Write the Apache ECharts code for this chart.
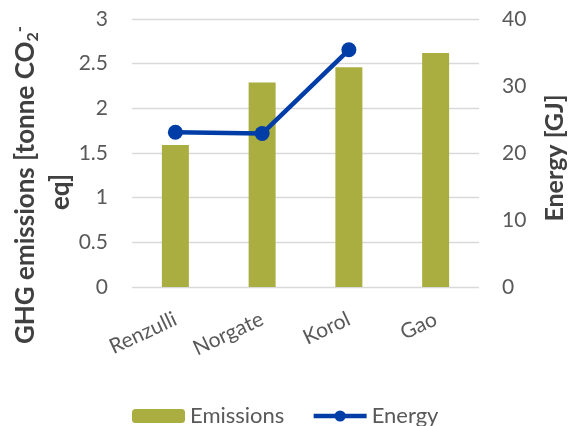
<!DOCTYPE html>
<html>
<head>
<meta charset="utf-8">
<script src="https://cdn.jsdelivr.net/npm/echarts@6/dist/echarts.min.js"></script>
<style>
  html, body { margin: 0; padding: 0; background: #fff; }
  #chart { width: 569px; height: 426px; }
</style>
</head>
<body>
<div id="chart"></div>
<script>
// Studies compared
const categories = ['Renzulli', 'Norgate', 'Korol', 'Gao'];
// GHG emissions, tonne CO2-eq
const emissions = [1.59, 2.29, 2.46, 2.62];
// Energy demand, GJ (no value reported for Gao)
const energy = [23.1, 22.9, 35.4, null];

const FONT = 'Lato';
const TICK_COLOR = '#595959';
const NAME_COLOR = '#404040';
const BAR_COLOR = '#AAAE40';
const LINE_COLOR = '#003DA6';
const TICK_SIZE = 21;

const chart = echarts.init(document.getElementById('chart'), null, { renderer: 'canvas' });

chart.setOption({
  backgroundColor: '#ffffff',
  animation: false,
  textStyle: { fontFamily: FONT },
  grid: { left: 132, right: 90, top: 19, bottom: 139 },
  legend: {
    left: 132,
    top: 405,
    padding: 0,
    itemWidth: 53,
    itemHeight: 14,
    itemGap: 27,
    textStyle: { fontFamily: FONT, fontSize: 22, color: TICK_COLOR },
    lineStyle: { width: 4.5 },
    data: ['Emissions', 'Energy']
  },
  xAxis: {
    type: 'category',
    data: categories,
    axisLine: { show: false },
    axisTick: { show: false },
    axisLabel: {
      rotate: 25,
      margin: 31,
      fontFamily: FONT,
      fontSize: TICK_SIZE,
      color: TICK_COLOR
    }
  },
  yAxis: [
    {
      type: 'value',
      min: 0, max: 3, interval: 0.5,
      axisLine: { show: false },
      axisTick: { show: false },
      axisLabel: { margin: 24, fontFamily: FONT, fontSize: TICK_SIZE, color: TICK_COLOR },
      splitLine: { lineStyle: { color: '#D9D9D9', width: 1.3 } }
    },
    {
      type: 'value',
      min: 0, max: 40, interval: 10,
      axisLine: { show: false },
      axisTick: { show: false },
      axisLabel: { margin: 23, fontFamily: FONT, fontSize: TICK_SIZE, color: TICK_COLOR },
      splitLine: { show: false }
    }
  ],
  series: [
    {
      name: 'Emissions',
      type: 'bar',
      yAxisIndex: 0,
      data: emissions,
      barWidth: 27,
      itemStyle: { color: BAR_COLOR }
    },
    {
      name: 'Energy',
      type: 'line',
      yAxisIndex: 1,
      data: energy,
      symbol: 'circle',
      symbolSize: 15,
      lineStyle: { color: LINE_COLOR, width: 4.5 },
      itemStyle: { color: LINE_COLOR },
      z: 5
    }
  ],
  graphic: [
    {
      type: 'text',
      x: 26, y: 185,
      rotation: Math.PI / 2,
      style: {
        text: '{m|GHG emissions [tonne CO}{sub|2}{sup|-}',
        align: 'center',
        verticalAlign: 'middle',
        rich: {
          m: { fontFamily: FONT, fontSize: 26, fontWeight: 'bold', fill: NAME_COLOR, lineHeight: 30, verticalAlign: 'middle' },
          sub: { fontFamily: FONT, fontSize: 16, fontWeight: 'bold', fill: NAME_COLOR, lineHeight: 16, verticalAlign: 'bottom' },
          sup: { fontFamily: FONT, fontSize: 17, fontWeight: 'bold', fill: NAME_COLOR, lineHeight: 17, verticalAlign: 'top' }
        }
      }
    },
    {
      type: 'text',
      x: 61, y: 192,
      rotation: Math.PI / 2,
      style: {
        text: 'eq]',
        align: 'center',
        verticalAlign: 'middle',
        fontFamily: FONT, fontSize: 26, fontWeight: 'bold', fill: NAME_COLOR
      }
    },
    {
      type: 'text',
      x: 555, y: 158,
      rotation: Math.PI / 2,
      style: {
        text: 'Energy [GJ]',
        align: 'center',
        verticalAlign: 'middle',
        fontFamily: FONT, fontSize: 25, fontWeight: 'bold', fill: NAME_COLOR
      }
    }
  ]
});
</script>
</body>
</html>
